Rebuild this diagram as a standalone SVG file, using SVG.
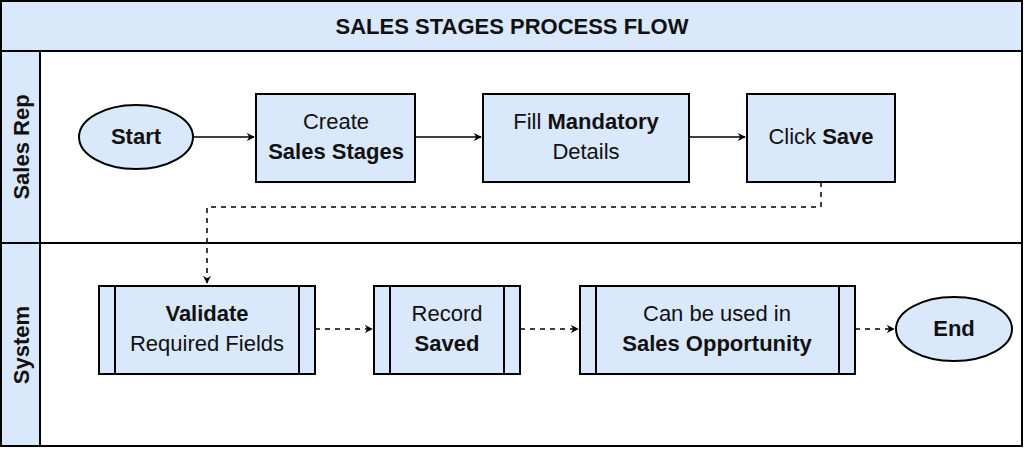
<svg xmlns="http://www.w3.org/2000/svg" width="1024" height="449" viewBox="0 0 1024 449">
<style>
.s{fill:#dae8fc;stroke:#000;stroke-width:2}
.ln{fill:none;stroke:#000;stroke-width:2}
.c{fill:none;stroke:#000;stroke-width:1.5}
.d{stroke-dasharray:5 5}
text{font-family:"Liberation Sans",Arial,sans-serif;font-size:22px;fill:#111;text-anchor:middle}
.b{font-weight:bold}
</style>
<defs><marker id="a" viewBox="0 0 10 10" refX="9" refY="5" markerWidth="8" markerHeight="8" orient="auto" markerUnits="userSpaceOnUse"><path d="M0,0 L10,5 L0,10 L3,5 Z" fill="#000"/></marker></defs>
<rect x="1" y="1" width="1021" height="445" fill="#fff" stroke="#000" stroke-width="2"/>
<g id="title"><rect class="s" x="1" y="1" width="1021" height="50"/><text class="b" x="512" y="34">SALES STAGES PROCESS FLOW</text></g>
<g id="lane1"><rect class="s" x="1" y="51" width="39" height="192"/><line class="ln" x1="40" y1="243" x2="1022" y2="243"/><text class="b" transform="translate(29,147) rotate(-90)">Sales Rep</text></g>
<g id="lane2"><rect class="s" x="1" y="243" width="39" height="203"/><text class="b" transform="translate(29,345) rotate(-90)">System</text></g>
<g id="connectors">
<path class="c" d="M193,137 H254" marker-end="url(#a)"/>
<path class="c" d="M415,137 H481" marker-end="url(#a)"/>
<path class="c" d="M689,137 H745" marker-end="url(#a)"/>
<path class="c d" d="M821,182 V207 H207 V283" marker-end="url(#a)"/>
<path class="c d" d="M315,329 H372" marker-end="url(#a)"/>
<path class="c d" d="M520,329 H578" marker-end="url(#a)"/>
<path class="c d" d="M855,329 H894" marker-end="url(#a)"/>
</g>
<g id="start"><ellipse class="s" cx="136" cy="137" rx="57" ry="32"/><text class="b" x="136" y="144">Start</text></g>
<g id="create"><rect class="s" x="256" y="94" width="159" height="88"/><text x="336" y="129">Create</text><text class="b" x="336" y="159">Sales Stages</text></g>
<g id="fill"><rect class="s" x="483" y="94" width="206" height="88"/><text x="586" y="129">Fill <tspan class="b">Mandatory</tspan></text><text x="586" y="159">Details</text></g>
<g id="save"><rect class="s" x="747" y="94" width="148" height="88"/><text x="821" y="144">Click <tspan class="b">Save</tspan></text></g>
<g id="validate"><rect class="s" x="99" y="286" width="216" height="88"/><line class="ln" x1="115" y1="286" x2="115" y2="374"/><line class="ln" x1="299" y1="286" x2="299" y2="374"/><text class="b" x="207" y="321">Validate</text><text x="207" y="351">Required Fields</text></g>
<g id="record"><rect class="s" x="374" y="286" width="146" height="88"/><line class="ln" x1="390" y1="286" x2="390" y2="374"/><line class="ln" x1="504" y1="286" x2="504" y2="374"/><text x="447" y="321">Record</text><text class="b" x="447" y="351">Saved</text></g>
<g id="used"><rect class="s" x="580" y="286" width="275" height="88"/><line class="ln" x1="596" y1="286" x2="596" y2="374"/><line class="ln" x1="839" y1="286" x2="839" y2="374"/><text x="717" y="321">Can be used in</text><text class="b" x="717" y="351">Sales Opportunity</text></g>
<g id="end"><ellipse class="s" cx="954" cy="329" rx="58" ry="32"/><text class="b" x="954" y="336">End</text></g>
</svg>
